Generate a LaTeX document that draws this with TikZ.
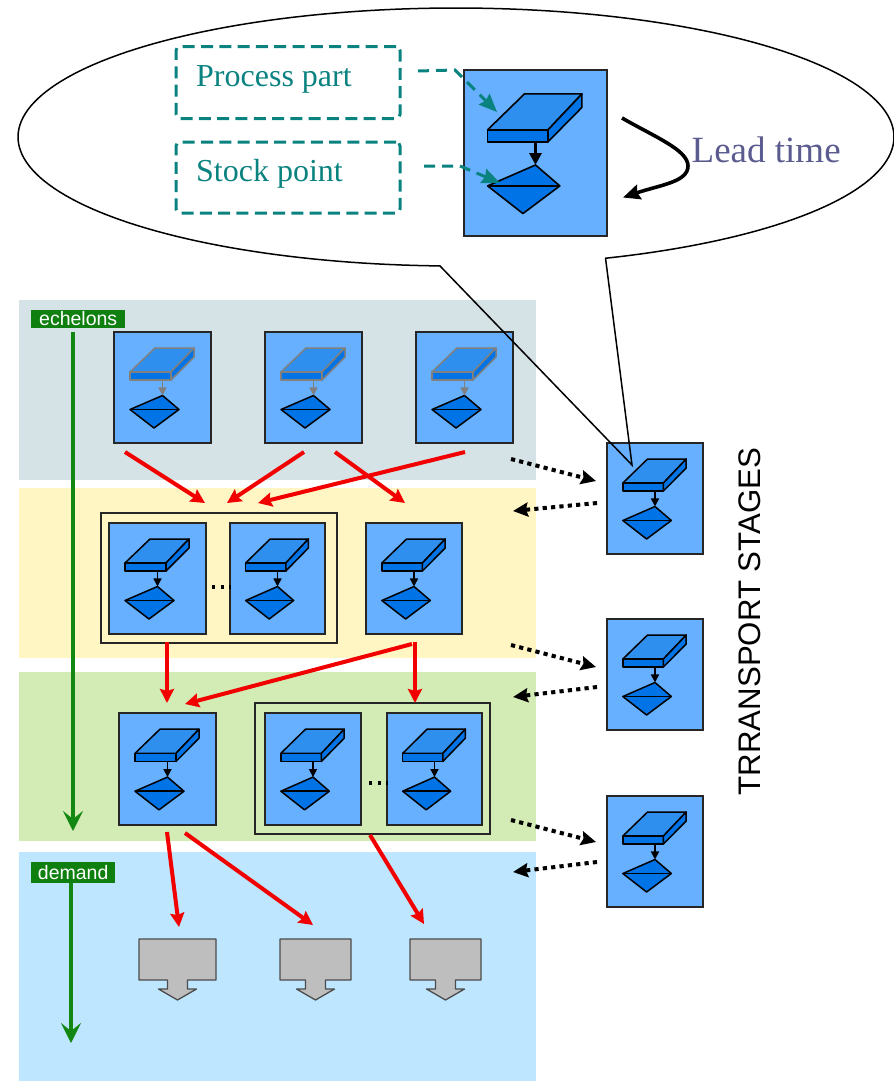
\documentclass[tikz,border=0pt]{standalone}
\usepackage{fontspec}
\setmainfont{Liberation Serif}
\setsansfont{Liberation Sans}
\usetikzlibrary{arrows.meta}
\definecolor{bandgrey}{HTML}{D5E2E6}
\definecolor{bandyellow}{HTML}{FFF6C4}
\definecolor{bandgreen}{HTML}{D3EBB5}
\definecolor{bandblue}{HTML}{BEE6FF}
\definecolor{stagefill}{HTML}{66B0FF}
\definecolor{slabtop}{HTML}{2F8FEF}
\definecolor{slabfront}{HTML}{0073E6}
\definecolor{labelgreen}{HTML}{0F7F0F}
\definecolor{arrowgreen}{HTML}{128812}
\definecolor{tealc}{HTML}{0A8280}
\definecolor{leadc}{HTML}{5B5B8F}
\definecolor{custfill}{HTML}{BEBEBE}
\tikzset{
  band/.style={fill=#1,draw=none},
  stageframe/.style={draw=black!85,fill=stagefill,line width=1.4pt,inner sep=0pt,outer sep=0pt,anchor=north west},
  groupframe/.style={draw=black!85,fill=none,line width=1.4pt,inner sep=0pt,outer sep=0pt,anchor=north west},
  redarrow/.style={draw=red!95!black,line width=4pt,-{Stealth[length=14pt,width=14pt,inset=2pt]}},
  dotarrow/.style={draw=black,line width=4pt,dash pattern=on 4.2pt off 4.2pt,-{Stealth[length=15pt,width=14pt,inset=2pt]}},
  greenarrow/.style={draw=arrowgreen,line width=4.5pt,-{Stealth[length=20pt,width=20pt,inset=8pt]}},
  tealarrow/.style={draw=tealc,line width=3pt,dash pattern=on 11pt off 7pt,-{Stealth[length=18pt,width=15pt,inset=2pt]}},
  dashbox/.style={draw=tealc,line width=3pt,dash pattern=on 12pt off 6.3pt,rounded corners=4pt,fill=none,inner sep=0pt,outer sep=0pt,anchor=north west},
  tealtext/.style={text=tealc,font=\fontsize{32}{36}\selectfont,inner sep=0pt,anchor=base west},
  greenlabel/.style={fill=labelgreen,text=white,inner sep=0pt,font=\sffamily\fontsize{19.5}{20}\selectfont,anchor=north west},
  dotsep/.style={draw=black,line width=3.2pt,dash pattern=on 3.2pt off 5.3pt},
  customer/.style={draw=black!70,fill=custfill,line width=1.3pt,line join=round},
}
\newcommand{\stagebox}[8]{% name,x,y,w,h,slab line colour,line width,arrow width
  \node[stageframe,minimum width=#4pt,minimum height=#5pt] (#1) at (#2,#3) {};
  \pgfmathsetlengthmacro{\ux}{#4/97}
  \pgfmathsetlengthmacro{\uy}{#5/111}
  \begin{scope}[shift={(#1.north west)},x=\ux,y=-\uy,line join=round]
    \draw[draw=#6,line width=#7,fill=slabtop] (16,40)--(41,16)--(80,16)--(57,40)--cycle;
    \draw[draw=#6,line width=#7,fill=slabfront] (16,40)--(57,40)--(57,48)--(16,48)--cycle;
    \draw[draw=#6,line width=#7,fill=slabfront] (57,40)--(80,16)--(80,25)--(57,48)--cycle;
    \draw[draw=black,line width=#7,fill=slabfront] (48.5,63.5)--(65,77.5)--(40,96)--(16,77.5)--cycle;
    \draw[draw=black,line width=#7] (16,77.5)--(65,77.5);
    \coordinate (#1-s) at (48.5,48);
    \coordinate (#1-d) at (48.5,63.5);
    \draw[draw=#6,line width=#8,-{Stealth[length=#8*2.2+4.5pt,width=#8*2.2+4.5pt,inset=0pt]}] (#1-s)--(#1-d);
  \end{scope}
}
\newcommand{\link}[6]{% style,name,x1,y1,x2,y2
  \coordinate (#2a) at (#3,#4);
  \coordinate (#2b) at (#5,#6);
  \draw[#1] (#2a)--(#2b);
}
\newcommand{\customerbox}[4]{% name,x,y top,width
  \pgfmathsetmacro{\xr}{#2+#4}
  \pgfmathsetmacro{\xm}{#2+#4/2}
  \draw[customer] (#2,#3)--(\xr,#3)--(\xr,#3+41)--(\xm+10,#3+41)--(\xm+10,#3+50)--(\xm+19,#3+50)--(\xm,#3+61)--(\xm-19,#3+50)--(\xm-10,#3+50)--(\xm-10,#3+41)--(#2,#3+41)--cycle;
  \coordinate (#1) at (\xm,#3);
}
\begin{document}
\begin{tikzpicture}[x=1pt,y=-1pt]
\useasboundingbox (0,0) rectangle (894,1082);
% bands
\fill[band=bandgrey] (19,300) rectangle (536,480);
\fill[band=bandyellow] (19,488) rectangle (536,658);
\fill[band=bandgreen] (19,672) rectangle (536,841);
\fill[band=bandblue] (19,852) rectangle (536,1081);
% echelon labels and arrows
\node[greenlabel,minimum width=94pt,minimum height=18pt] (ech) at (31,309.5) {echelons};
\node[greenlabel,minimum width=84pt,minimum height=21pt] (dem) at (31,862) {demand};
\coordinate (echb) at (73,831);
\coordinate (demb) at (71,1043);
\coordinate (echa) at (73,332);
\coordinate (dema) at (71,883);
\draw[greenarrow] (echa)--(echb);
\draw[greenarrow] (dema)--(demb);
% groups
\node[groupframe,minimum width=236pt,minimum height=130pt] (g1) at (101,513) {};
\node[groupframe,minimum width=235pt,minimum height=131pt] (g2) at (255,703) {};
% stages
\stagebox{A1}{114}{332}{97}{111}{black!50}{1.5pt}{1.6pt}
\stagebox{A2}{265}{332}{97}{111}{black!50}{1.5pt}{1.6pt}
\stagebox{A3}{416}{332}{97}{111}{black!50}{1.5pt}{1.6pt}
\stagebox{B1}{109}{523}{97}{111}{black}{1.5pt}{1.6pt}
\stagebox{B2}{230}{523}{95}{111}{black}{1.5pt}{1.6pt}
\stagebox{B3}{366}{523}{96}{111}{black}{1.5pt}{1.6pt}
\stagebox{C1}{119}{713}{97}{112}{black}{1.5pt}{1.6pt}
\stagebox{C2}{265}{713}{96}{112}{black}{1.5pt}{1.6pt}
\stagebox{C3}{387}{713}{95}{112}{black}{1.5pt}{1.6pt}
\stagebox{T1}{607}{443}{96}{111}{black}{1.5pt}{1.6pt}
\stagebox{T2}{607}{619}{96}{111}{black}{1.5pt}{1.6pt}
\stagebox{T3}{607}{796}{96}{111}{black}{1.5pt}{1.6pt}
\stagebox{Big}{464}{70}{143}{166}{black}{1.6pt}{3.3pt}
% ellipsis marks
\coordinate (d1a) at (212,587); \coordinate (d1b) at (231,587);
\draw[dotsep] (d1a)--(d1b);
\coordinate (d2a) at (369,783); \coordinate (d2b) at (388,783);
\draw[dotsep] (d2a)--(d2b);
% customers
\customerbox{K1}{139}{939}{77}
\customerbox{K2}{280}{939}{71}
\customerbox{K3}{410}{939}{71}
% red arrows
\link{redarrow}{r1}{125}{452}{205}{503}
\link{redarrow}{r2}{304}{452}{227}{503}
\link{redarrow}{r3}{465}{452}{258}{503}
\link{redarrow}{r4}{335}{452}{405}{503}
\link{redarrow}{r5}{167}{642}{167}{703}
\link{redarrow}{r6}{415}{642}{415}{703}
\link{redarrow}{r7}{412}{644}{185}{704}
\link{redarrow}{r8}{167}{832}{179}{927}
\link{redarrow}{r9}{185}{833}{313}{925}
\link{redarrow}{r10}{370}{835}{424}{924}
% dotted arrows
\link{dotarrow}{t1}{511}{459}{596}{481}
\link{dotarrow}{t2}{597}{503}{513}{511}
\link{dotarrow}{t3}{511}{645}{596}{667}
\link{dotarrow}{t4}{597}{687}{513}{697}
\link{dotarrow}{t5}{511}{820}{596}{842}
\link{dotarrow}{t6}{597}{862}{513}{872}
% callout
\draw[black,line width=1.5pt,line join=miter]
  plot[domain=70.1:-267.9,samples=200] ({456+438*cos(\x)},{137+129*sin(\x)})
  -- (632,465) -- (605.5,258);
% dashed boxes
\node[dashbox,minimum width=224pt,minimum height=72pt] (pp) at (176,46.5) {};
\node[dashbox,minimum width=224pt,minimum height=71pt] (sp) at (176,142) {};
\node[tealtext] (pptext) at (196,86.3) {Process part};
\node[tealtext] (sptext) at (196,181.7) {Stock point};
\coordinate (ppa) at (418,71); \coordinate (ppm) at (455,70); \coordinate (ppb) at (497,112);
\draw[tealarrow] (ppa)--(ppm)--(ppb);
\coordinate (spa) at (424,166); \coordinate (spm) at (460,166); \coordinate (spb) at (500,183);
\draw[tealarrow] (spa)--(spm)--(spb);
% lead time
\node[text=leadc,font=\fontsize{37}{40}\selectfont,inner sep=0pt,anchor=base west] (lead) at (691.5,162) {Lead time};
\coordinate (lta) at (622,118); \coordinate (ltb) at (623,197.5);
\draw[black,line width=3.6pt,-{Stealth[length=17pt,width=15pt,inset=2pt]}]
  (lta) .. controls (655,137) and (688,150) .. (688,166) .. controls (688,182) and (660,185) .. (ltb);
% vertical title
\node[rotate=90,font=\sffamily\fontsize{31.2}{34}\selectfont,inner sep=0pt,anchor=center] (title) at (750,621.5) {TRRANSPORT STAGES};
\end{tikzpicture}
\end{document}
